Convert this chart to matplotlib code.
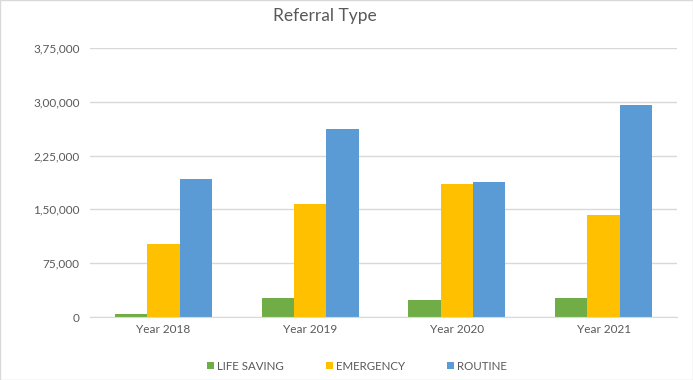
import matplotlib
matplotlib.use("Agg")
import matplotlib.pyplot as plt
from matplotlib.patches import Rectangle
from matplotlib.ticker import FuncFormatter
import numpy as np

plt.rcParams['font.family'] = ['Lato', 'DejaVu Sans']

categories = ["Year 2018", "Year 2019", "Year 2020", "Year 2021"]
life_saving = [4200, 26500, 23700, 26500]
emergency = [101900, 157700, 185600, 142300]
routine = [192600, 262400, 188400, 295900]
series_names = ["LIFE SAVING", "EMERGENCY", "ROUTINE"]
colors = ["#70AD47", "#FFC000", "#5B9BD5"]
yticks = [0, 75000, 150000, 225000, 300000, 375000]

def indian(v, pos=None):
    v = int(round(v))
    s = str(v)
    if len(s) <= 3:
        return s
    last3 = s[-3:]
    rest = s[:-3]
    groups = []
    while len(rest) > 2:
        groups.insert(0, rest[-2:])
        rest = rest[:-2]
    if rest:
        groups.insert(0, rest)
    return ",".join(groups + [last3])

W, H = 693, 380
fig = plt.figure(figsize=(W/100, H/100), dpi=100)
fig.patches.append(Rectangle((0.0007, 0.0013), 0.9986, 0.9974, transform=fig.transFigure,
                             fill=False, edgecolor="#d9d9d9", linewidth=1))

ax = fig.add_axes([90/W, 1-317/H, (677-90)/W, (317-48)/H])
x = np.arange(len(categories))
bw = 0.22
for i, (vals, name, c) in enumerate(zip([life_saving, emergency, routine], series_names, colors)):
    ax.bar(x + (i-1)*bw, vals, width=bw, color=c, label=name, zorder=3)

ax.set_xlim(-0.5, len(categories)-0.5)
ax.set_ylim(0, 375000)
ax.set_yticks(yticks)
ax.yaxis.set_major_formatter(FuncFormatter(indian))
ax.set_xticks(x)
ax.set_xticklabels(categories)
ax.grid(axis="y", color="#d9d9d9", linewidth=1, zorder=0)
for sp in ["top", "right", "left"]:
    ax.spines[sp].set_visible(False)
ax.spines["bottom"].set_color("#d9d9d9")
ax.spines["bottom"].set_zorder(4)
ax.tick_params(axis="both", length=0, colors="#595959", labelsize=8.5)
ax.tick_params(axis="y", pad=7.5)
ax.tick_params(axis="x", pad=5)

fig.text(325/W, 1-16/H, "Referral Type", ha="center", va="center", fontsize=12.5, color="#595959")

leg = fig.legend(loc="center", bbox_to_anchor=(357/W, 1-366/H), ncol=3, frameon=False,
                 fontsize=8.3, handlelength=0.6, handleheight=0.6, columnspacing=3.6,
                 handletextpad=0.3, labelcolor="#595959")

fig.savefig("out.png", dpi=100)
